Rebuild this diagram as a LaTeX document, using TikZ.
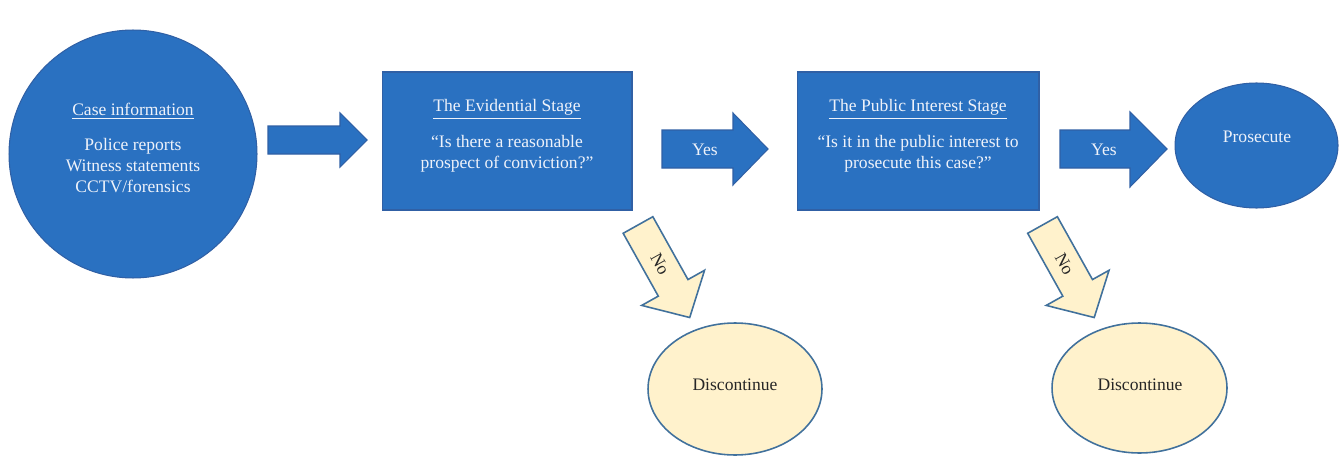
\documentclass[tikz,border=0pt]{standalone}
\usepackage{fontspec}
\setmainfont{Liberation Serif}
\usetikzlibrary{shapes.geometric}

\definecolor{stageblue}{RGB}{42,113,193}
\definecolor{stageedge}{RGB}{48,96,165}
\definecolor{stopfill}{RGB}{255,242,204}
\definecolor{stopedge}{RGB}{65,113,156}
\definecolor{lighttext}{RGB}{238,242,250}

\begin{document}
\begin{tikzpicture}[x = .02cm, y = -.02cm,
		bluebody/.style = {fill = stageblue, draw = stageedge, line width = .6pt},
		stopbody/.style = {fill = stopfill, draw = stopedge, line width = .9pt},
		intext/.style = {text = lighttext, align = center, font = \fontsize{10}{12}\selectfont},
		stoptext/.style = {text = black!85, font = \fontsize{10}{12}\selectfont}]
		\useasboundingbox (0,0) rectangle (1341,456);
		
		\node (case) at (133,154) [ellipse, bluebody, minimum width = 4.96cm, minimum height = 4.96cm] {};
		\node (casetext) at (133,148) [intext] {\underline{Case information}\\[8pt] Police reports\\ Witness statements\\ CCTV/forensics};
		
		\draw [bluebody] (268,126) -- (340,126) -- (340,113) -- (367,140) -- (340,167) -- (340,154) -- (268,154) -- cycle;
		
		\node (evid) at (507,141) [rectangle, bluebody, minimum width = 5cm, minimum height = 2.76cm] {};
		\node (evidtext) at (507,136) [intext] {\underline{The Evidential Stage}\\[8.5pt] ``Is there a reasonable\\ prospect of conviction?''};
		
		\draw [bluebody] (662,130) -- (733,130) -- (733,113) -- (768,149) -- (733,185) -- (733,168) -- (662,168) -- cycle;
		\node (yes1) at (705,150) [intext] {Yes};
		
		\node (pub) at (918,141) [rectangle, bluebody, minimum width = 4.84cm, minimum height = 2.76cm] {};
		\node (pubtext) at (918,136) [intext] {\underline{The Public Interest Stage}\\[8.5pt] ``Is it in the public interest to\\ prosecute this case?''};
		
		\draw [bluebody] (1060,130) -- (1130,130) -- (1130,112) -- (1167,149) -- (1130,187) -- (1130,168) -- (1060,168) -- cycle;
		\node (yes2) at (1104,150) [intext] {Yes};
		
		\node (pros) at (1256.5,145.5) [ellipse, bluebody, minimum width = 3.26cm, minimum height = 2.5cm] {};
		\node (prostext) at (1257,137) [intext] {Prosecute};
		
		% the two "No" branches
		\begin{scope}[shift = {(638,225)}, rotate = -60.8]
			\draw [stopbody] (0,-17) -- (72,-17) -- (72,-36) -- (106,0) -- (72,36) -- (72,17) -- (0,17) -- cycle;
			\node (no1) at (45,0) [stoptext, rotate = -60.8] {No};
		\end{scope}
		\node (stop1) at (735,389) [ellipse, stopbody, minimum width = 3.48cm, minimum height = 2.64cm] {};
		\node (stop1text) at (735,385) [stoptext] {Discontinue};
		
		\begin{scope}[shift = {(1042.5,225)}, rotate = -60.8]
			\draw [stopbody] (0,-17) -- (72,-17) -- (72,-36) -- (106,0) -- (72,36) -- (72,17) -- (0,17) -- cycle;
			\node (no2) at (45,0) [stoptext, rotate = -60.8] {No};
		\end{scope}
		\node (stop2) at (1139.5,388) [ellipse, stopbody, minimum width = 3.5cm, minimum height = 2.6cm] {};
		\node (stop2text) at (1140,385) [stoptext] {Discontinue};
		\end{tikzpicture}
\end{document}
